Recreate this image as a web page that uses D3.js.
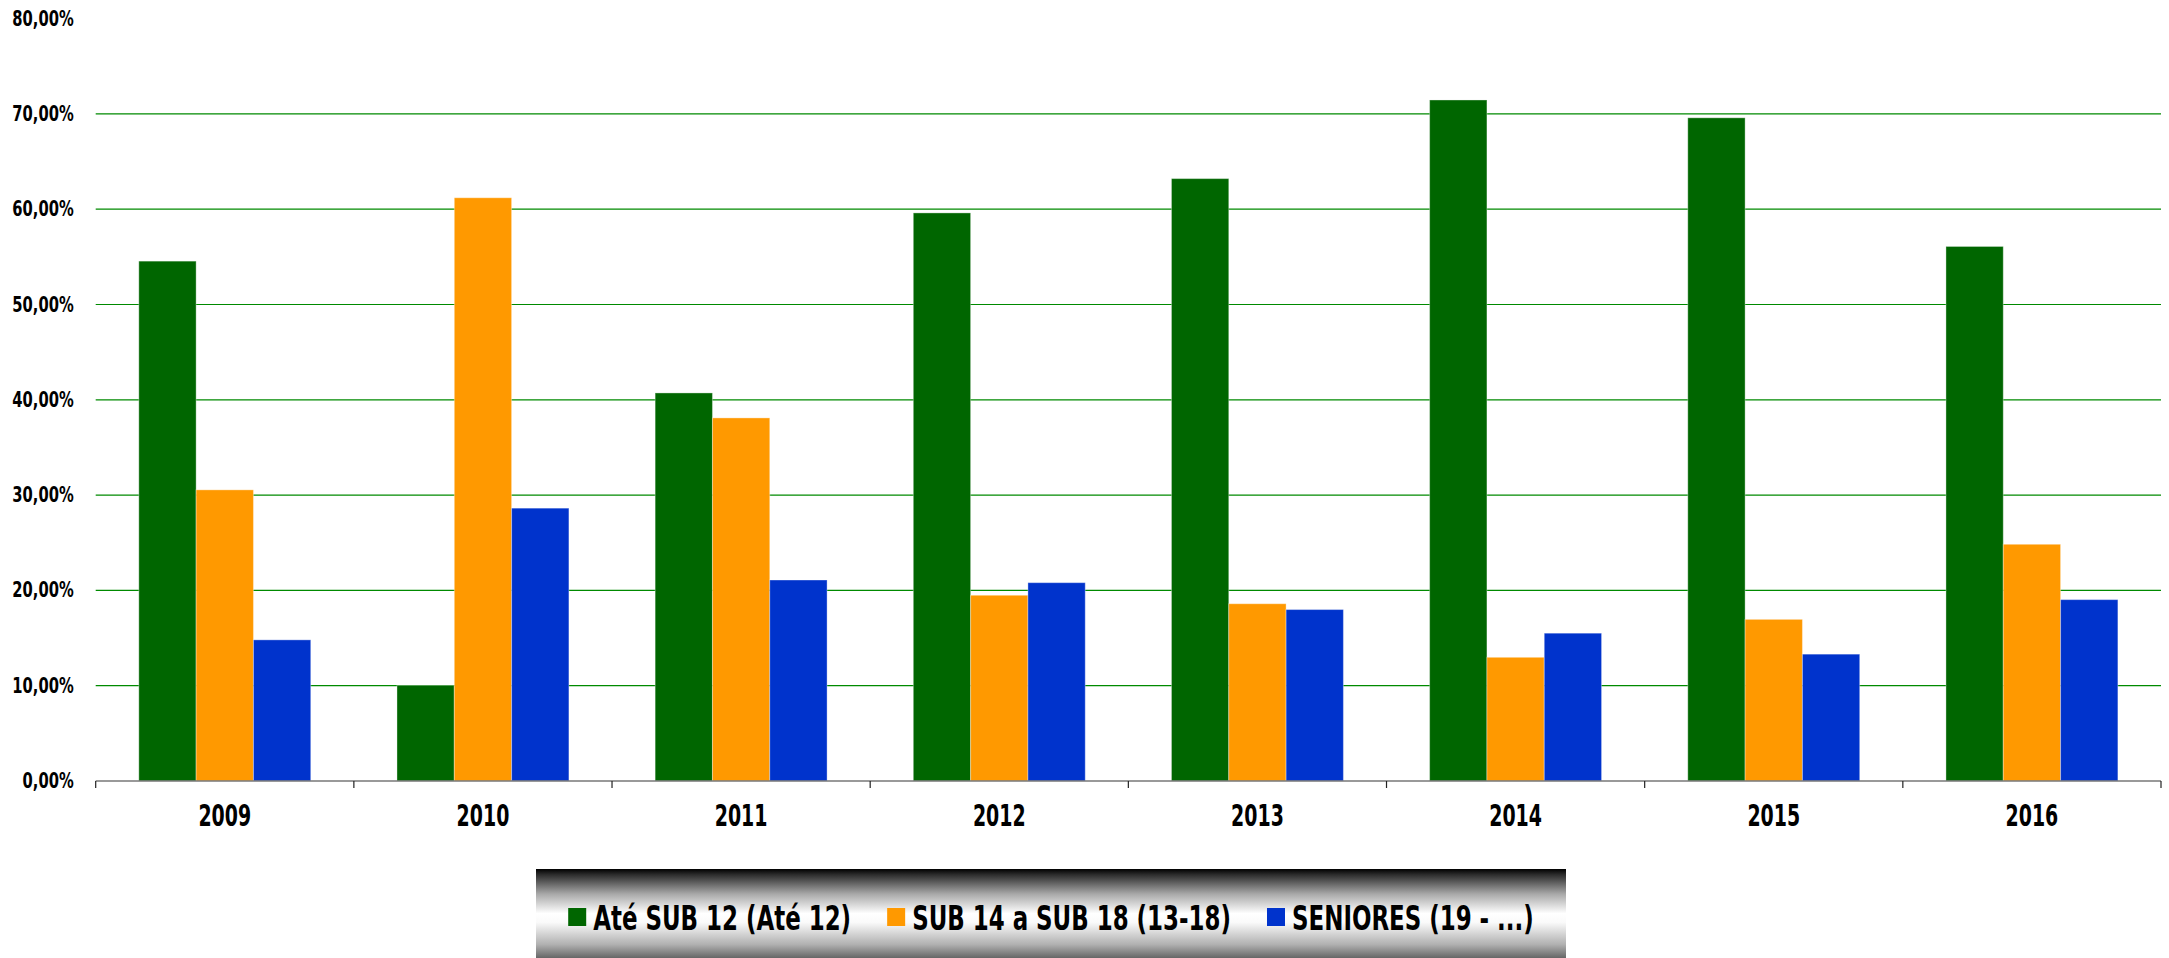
<!DOCTYPE html>
<html>
<head>
<meta charset="utf-8">
<script src="https://cdn.jsdelivr.net/npm/d3@7"></script>
<style>
    html, body { margin: 0; padding: 0; background: #fff; }
    svg { display: block; }
    text { font-family: "DejaVu Sans Condensed", "Liberation Sans", sans-serif; font-weight: bold; fill: #000; }
</style>
</head>
<body>
<script>
// DATA
var years = ['2009', '2010', '2011', '2012', '2013', '2014', '2015', '2016'];
var seriesNames = ['Até SUB 12 (Até 12)', 'SUB 14 a SUB 18 (13-18)', 'SENIORES (19 - ...)'];
var ateSub12 = [0.5455, 0.1003, 0.4072, 0.5961, 0.6321, 0.7146, 0.6959, 0.5609];
var sub14a18 = [0.3055, 0.6120, 0.3810, 0.1949, 0.1860, 0.1298, 0.1696, 0.2484];
var seniores = [0.1481, 0.2863, 0.2109, 0.2081, 0.1799, 0.1551, 0.1331, 0.1903];
var yTicks = [0, 0.1, 0.2, 0.3, 0.4, 0.5, 0.6, 0.7, 0.8];

var colors = ['#006600', '#FF9900', '#0033CC'];

var chart = {
    init: function () {
        var self = this;

        self.width = 2169;
        self.height = 958;
        self.plot = { left: 95.7, right: 2161, top: 18.6, bottom: 781 };

        self.svg = d3.select('body').append('svg')
            .attr('width', self.width)
            .attr('height', self.height);

        self.values = [ateSub12, sub14a18, seniores];

        self.locale = d3.formatLocale({ decimal: ',', thousands: '.', grouping: [3], currency: ['', '€'] });

        self.draw();
    },
    // the original font is a narrow one, so squeeze text horizontally
    squeeze: function (sel, k) {
        sel.each(function () {
            var t = d3.select(this),
                x = +t.attr('x') || 0;
            t.attr('x', x / k).attr('transform', 'scale(' + k + ',1)');
        });
    },
    draw: function () {
        var self = this,
            p = self.plot,
            svg = self.svg,
            x0, x1, y, rows;

        x0 = d3.scaleBand().domain(years).range([p.left, p.right]).padding(0);
        x1 = d3.scaleBand().domain(d3.range(seriesNames.length))
            .range([x0.bandwidth() * 0.167, x0.bandwidth() * 0.833]).padding(0);
        y = d3.scaleLinear().domain([0, 0.8]).range([p.bottom, p.top]);

        // gridlines
        svg.append('g').selectAll('line')
            .data(yTicks.filter(function (d) { return d > 0 && d < 0.8; }))
            .enter().append('line')
            .attr('x1', p.left).attr('x2', p.right)
            .attr('y1', function (d) { return y(d); })
            .attr('y2', function (d) { return y(d); })
            .attr('stroke', '#008A00')
            .attr('stroke-width', 1.2);

        // y axis labels
        var yAxis = svg.append('g')
            .attr('transform', 'translate(' + p.left + ',0)')
            .call(d3.axisLeft(y).tickValues(yTicks).tickSize(0).tickPadding(22)
                .tickFormat(self.locale.format('.2%')));
        yAxis.select('.domain').remove();
        yAxis.selectAll('text').attr('font-size', 20.5).attr('font-family', null);
        self.squeeze(yAxis.selectAll('text'), 0.8);

        // bars
        rows = years.map(function (yr, i) {
            return { year: yr, vals: self.values.map(function (s) { return s[i]; }) };
        });

        svg.append('g').selectAll('g')
            .data(rows)
            .enter().append('g')
            .attr('transform', function (d) { return 'translate(' + x0(d.year) + ',0)'; })
            .selectAll('rect')
            .data(function (d) { return d.vals; })
            .enter().append('rect')
            .attr('x', function (d, i) { return x1(i); })
            .attr('width', x1.bandwidth())
            .attr('y', function (d) { return y(d); })
            .attr('height', function (d) { return y(0) - y(d); })
            .attr('fill', function (d, i) { return colors[i]; })
            .attr('stroke', 'rgba(255,255,255,0.35)')
            .attr('stroke-width', 1);

        // x axis line + ticks at category edges
        svg.append('line')
            .attr('x1', p.left).attr('x2', p.right)
            .attr('y1', p.bottom).attr('y2', p.bottom)
            .attr('stroke', '#777').attr('stroke-width', 1.6);

        svg.append('g').selectAll('line')
            .data(years.concat(['end']))
            .enter().append('line')
            .attr('x1', function (d) { return d === 'end' ? p.right : x0(d); })
            .attr('x2', function (d) { return d === 'end' ? p.right : x0(d); })
            .attr('y1', p.bottom).attr('y2', p.bottom + 7)
            .attr('stroke', '#222').attr('stroke-width', 1.2);

        var xAxis = svg.append('g')
            .attr('transform', 'translate(0,' + p.bottom + ')')
            .call(d3.axisBottom(x0).tickSize(0).tickPadding(23));
        xAxis.select('.domain').remove();
        xAxis.selectAll('text').attr('font-size', 31).attr('font-family', null);
        self.squeeze(xAxis.selectAll('text'), 0.68);

        self.drawLegend();
    },
    drawLegend: function () {
        var self = this,
            svg = self.svg,
            box = { x: 536, y: 869, w: 1030, h: 89 },
            k = 0.75,
            grad, legend, items, cx;

        grad = svg.append('defs').append('linearGradient')
            .attr('id', 'legendGrad')
            .attr('x1', 0).attr('y1', 0).attr('x2', 0).attr('y2', 1);
        [[0, '#000'], [0.06, '#2a2a2a'], [0.28, '#a8a8a8'], [0.5, '#fff'], [0.6, '#fafafa'], [0.85, '#b0b0b0'], [1, '#666']]
            .forEach(function (s) {
                grad.append('stop').attr('offset', s[0]).attr('stop-color', s[1]);
            });

        legend = svg.append('g');
        legend.append('rect')
            .attr('x', box.x).attr('y', box.y)
            .attr('width', box.w).attr('height', box.h)
            .attr('fill', 'url(#legendGrad)');

        items = legend.selectAll('g.item')
            .data(seriesNames)
            .enter().append('g').attr('class', 'item');

        items.append('rect')
            .attr('width', 18).attr('height', 18)
            .attr('y', 908)
            .attr('fill', function (d, i) { return colors[i]; });

        items.append('text')
            .attr('x', 25)
            .attr('y', 930)
            .attr('font-size', 34)
            .text(function (d) { return d; });

        // lay items out left to right, centered in the box
        var widths = [];
        items.each(function () {
            widths.push(25 + k * d3.select(this).select('text').node().getComputedTextLength());
        });
        self.squeeze(items.selectAll('text'), k);

        var gap = 36,
            total = d3.sum(widths) + gap * (widths.length - 1);
        cx = box.x + (box.w - total) / 2;
        items.each(function (d, i) {
            d3.select(this).attr('transform', 'translate(' + cx + ',0)');
            cx += widths[i] + gap;
        });
    }
};

chart.init();
</script>
</body>
</html>
